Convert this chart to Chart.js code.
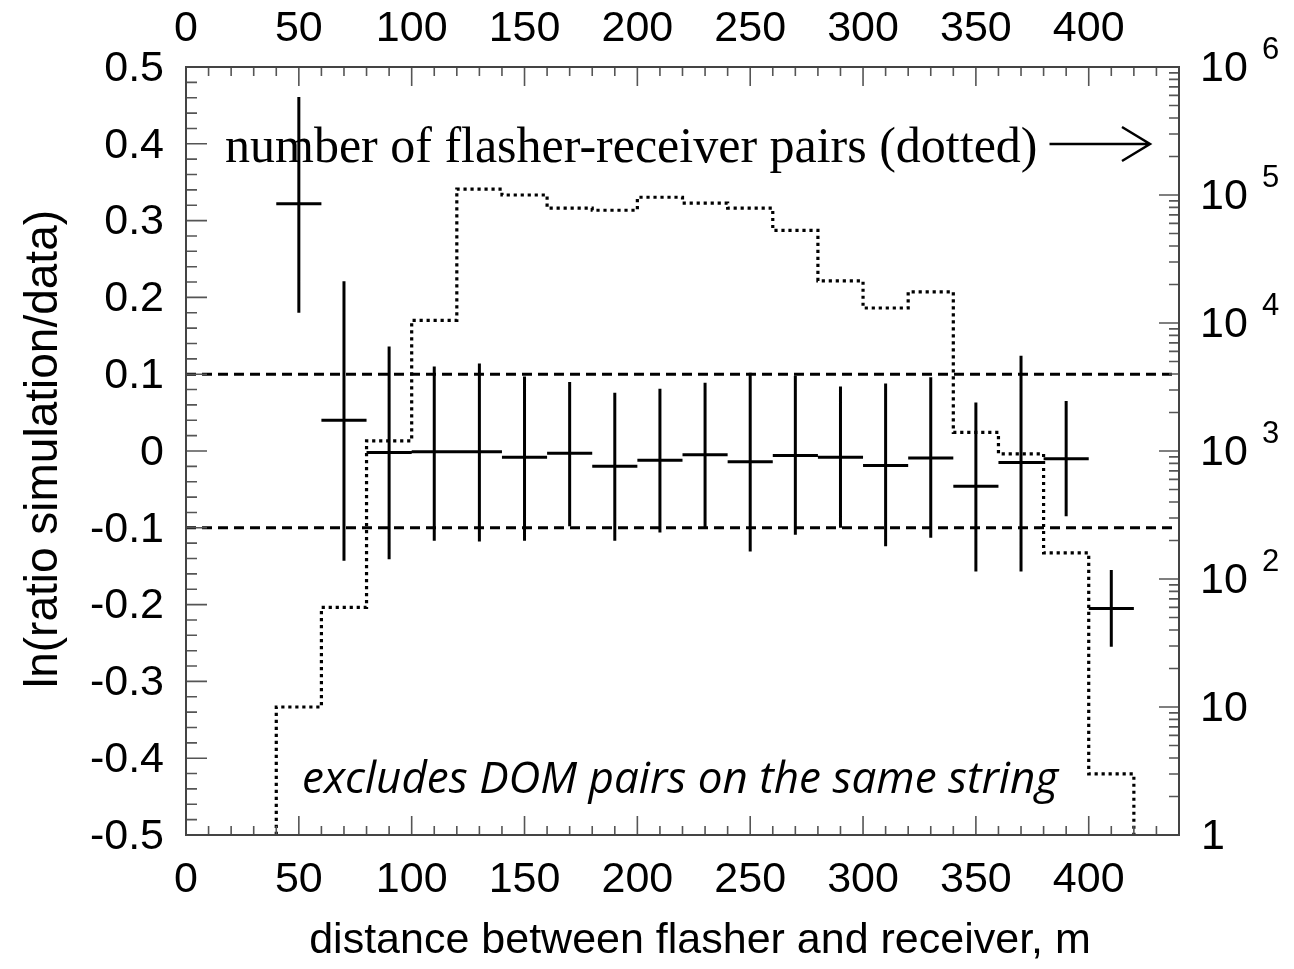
<!DOCTYPE html>
<html>
<head>
<meta charset="utf-8">
<script src="https://cdn.jsdelivr.net/npm/chart.js@4/dist/chart.umd.min.js"></script>
<style>
  html, body { margin: 0; padding: 0; background: #fff; }
  canvas { display: block; }
</style>
</head>
<body>
<canvas id="chart" width="1294" height="969"></canvas>
<script>
// distance bins (m) for the flasher-receiver pair histogram
const binEdges = [40, 60, 80, 100, 120, 140, 160, 180, 200, 220, 240, 260, 280, 300, 320, 340, 360, 380, 400, 420];
const pairCounts = [10, 60, 1200, 10500, 111000, 100000, 79000, 76000, 96000, 86500, 79000, 53000, 21300, 13100, 17500, 1400, 950, 160, 3];

// ln(ratio simulation/data) per 20 m bin
const binCenters = [50, 70, 90, 110, 130, 150, 170, 190, 210, 230, 250, 270, 290, 310, 330, 350, 370, 390, 410];
const ratio = [0.322, 0.040, -0.002, -0.001, -0.001, -0.008, -0.003, -0.020, -0.012, -0.005, -0.014, -0.006, -0.008, -0.019, -0.009, -0.046, -0.015, -0.010, -0.205];
const ratioHigh = [0.461, 0.221, 0.136, 0.110, 0.114, 0.097, 0.090, 0.076, 0.081, 0.089, 0.102, 0.098, 0.084, 0.088, 0.096, 0.063, 0.124, 0.065, -0.155];
const ratioLow = [0.180, -0.143, -0.141, -0.117, -0.118, -0.117, -0.098, -0.117, -0.106, -0.100, -0.131, -0.109, -0.100, -0.124, -0.113, -0.157, -0.157, -0.085, -0.255];
const binHalfWidth = 10;
const bandLimits = [0.1, -0.1];

// axis ticks
const xTickLabels = [0, 50, 100, 150, 200, 250, 300, 350, 400];
const yTickLabels = [0.5, 0.4, 0.3, 0.2, 0.1, 0, -0.1, -0.2, -0.3, -0.4, -0.5];
const countExponents = [0, 1, 2, 3, 4, 5, 6];

const xMax = 440;
const countFloor = 1;

// histogram outline as stepped line
const histPoints = [{ x: binEdges[0], y: countFloor }];
pairCounts.forEach((c, i) => histPoints.push({ x: binEdges[i], y: c }));
histPoints.push({ x: binEdges[binEdges.length - 1], y: countFloor });

// error bars: vertical and horizontal segments separated by gaps
const vBars = [];
const hBars = [];
binCenters.forEach((c, i) => {
  vBars.push({ x: c, y: ratioLow[i] }, { x: c, y: ratioHigh[i] }, { x: c, y: null });
  hBars.push({ x: c - binHalfWidth, y: ratio[i] }, { x: c + binHalfWidth, y: ratio[i] }, { x: c, y: null });
});

const sans = "'Liberation Sans', Arial, Helvetica, sans-serif";

const frameAxes = {
  id: "frameAxes",
  afterDraw(chart) {
    const { ctx, chartArea: a, scales } = chart;
    const x = scales.x, y = scales.y, yN = scales.yN;
    ctx.save();

    // tick marks, pointing inward
    ctx.strokeStyle = "#555";
    ctx.lineWidth = 1.6;
    ctx.beginPath();
    for (let v = 0; v <= xMax; v += 10) {
      const px = x.getPixelForValue(v);
      const len = v % 50 === 0 ? 19 : 9;
      ctx.moveTo(px, a.bottom); ctx.lineTo(px, a.bottom - len);
      ctx.moveTo(px, a.top); ctx.lineTo(px, a.top + len);
    }
    for (let i = -25; i <= 25; i++) {
      const py = y.getPixelForValue(i / 50);
      const len = i % 5 === 0 ? 21 : 11;
      ctx.moveTo(a.left, py); ctx.lineTo(a.left + len, py);
    }
    for (let d = 0; d < 6; d++) {
      for (let m = 1; m <= 9; m++) {
        const py = yN.getPixelForValue(m * Math.pow(10, d));
        const len = m === 1 ? 20 : 10;
        ctx.moveTo(a.right, py); ctx.lineTo(a.right - len, py);
      }
    }
    ctx.stroke();

    // frame
    ctx.strokeStyle = "#444";
    ctx.lineWidth = 2;
    ctx.strokeRect(a.left, a.top, a.right - a.left, a.bottom - a.top);

    // tick labels
    ctx.fillStyle = "#000";
    ctx.font = "43px " + sans;
    ctx.textAlign = "center";
    ctx.textBaseline = "middle";
    xTickLabels.forEach((v) => {
      const px = x.getPixelForValue(v);
      ctx.fillText(String(v), px, a.top - 38);
      ctx.fillText(String(v), px, a.bottom + 45);
    });
    ctx.textAlign = "right";
    yTickLabels.forEach((v) => {
      ctx.fillText(String(v), a.left - 22, y.getPixelForValue(v) + 2);
    });
    ctx.textAlign = "left";
    countExponents.forEach((e) => {
      const py = yN.getPixelForValue(Math.pow(10, e));
      ctx.font = "43px " + sans;
      if (e === 0) {
        ctx.fillText("1", a.right + 22, py + 2);
      } else {
        ctx.fillText("10", a.right + 21, py + 2);
        if (e > 1) {
          ctx.font = "31px " + sans;
          ctx.fillText(String(e), a.right + 83, py - 17);
        }
      }
    });

    // axis titles
    ctx.font = "43px " + sans;
    ctx.textAlign = "center";
    ctx.fillText("distance between flasher and receiver, m", 700, a.bottom + 106);
    ctx.save();
    ctx.translate(44, 449);
    ctx.rotate(-Math.PI / 2);
    ctx.font = "46px " + sans;
    ctx.fillText("ln(ratio simulation/data)", 0, 0);
    ctx.restore();

    // annotations
    ctx.textAlign = "left";
    ctx.textBaseline = "alphabetic";
    ctx.font = "50px 'Liberation Serif', 'Times New Roman', serif";
    const note = "number of flasher-receiver pairs (dotted)";
    ctx.fillText(note, a.left + 39, a.top + 95);
    const ax = a.left + 39 + ctx.measureText(note).width + 12;
    const ay = a.top + 77;
    ctx.strokeStyle = "#000";
    ctx.lineWidth = 2.5;
    ctx.beginPath();
    ctx.moveTo(ax, ay); ctx.lineTo(a.right - 29, ay);
    ctx.moveTo(a.right - 57, ay - 17); ctx.lineTo(a.right - 29, ay); ctx.lineTo(a.right - 57, ay + 17);
    ctx.stroke();

    ctx.font = "italic 44px 'Open Sans', 'Liberation Sans', sans-serif";
    ctx.fillText("excludes DOM pairs on the same string", a.left + 116, a.bottom - 42);

    ctx.restore();
  }
};

new Chart(document.getElementById("chart"), {
  type: "scatter",
  data: {
    datasets: [
      {
        label: "ratio vertical",
        data: vBars,
        showLine: true,
        spanGaps: false,
        borderColor: "#000",
        borderWidth: 3,
        pointRadius: 0,
        yAxisID: "y",
      },
      {
        label: "ratio horizontal",
        data: hBars,
        showLine: true,
        spanGaps: false,
        borderColor: "#000",
        borderWidth: 3,
        pointRadius: 0,
        yAxisID: "y",
      },
      {
        label: "upper band",
        data: [{ x: 0, y: bandLimits[0] }, { x: xMax, y: bandLimits[0] }],
        showLine: true,
        borderColor: "#000",
        borderWidth: 3,
        borderDash: [10, 6],
        pointRadius: 0,
        yAxisID: "y",
      },
      {
        label: "lower band",
        data: [{ x: 0, y: bandLimits[1] }, { x: xMax, y: bandLimits[1] }],
        showLine: true,
        borderColor: "#000",
        borderWidth: 3,
        borderDash: [10, 6],
        pointRadius: 0,
        yAxisID: "y",
      },
      {
        label: "pairs",
        data: histPoints,
        showLine: true,
        stepped: "before",
        borderColor: "#000",
        borderWidth: 3.2,
        borderDash: [3.2, 3.8],
        pointRadius: 0,
        yAxisID: "yN",
      },
    ],
  },
  options: {
    responsive: false,
    animation: false,
    devicePixelRatio: 1,
    layout: { autoPadding: false, padding: { left: 186, right: 115, top: 67, bottom: 134 } },
    plugins: { legend: { display: false }, tooltip: { enabled: false } },
    scales: {
      x: { type: "linear", min: 0, max: xMax, display: false },
      y: { type: "linear", min: -0.5, max: 0.5, display: false },
      yN: { type: "logarithmic", min: 1, max: 1e6, display: false },
    },
  },
  plugins: [frameAxes],
});
</script>
</body>
</html>
